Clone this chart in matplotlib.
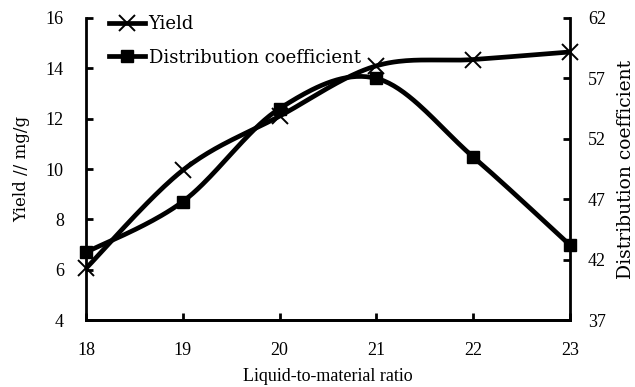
import numpy as np
import matplotlib.pyplot as plt
from matplotlib.lines import Line2D

plt.rcParams['font.family'] = 'Liberation Serif'

ratio = [18, 19, 20, 21, 22, 23]
yield_mg = [6.05, 9.95, 12.1, 14.1, 14.35, 14.65]
dist_coef = [42.6, 46.8, 54.5, 57.0, 50.5, 43.2]


def smooth(x, y, n=40):
    # catmull-rom bezier curve through the points, like spreadsheet "smoothed line"
    x = np.asarray(x, float)
    y = np.asarray(y, float)
    pts = np.column_stack([x, y])
    out = []
    t = np.linspace(0, 1, n)
    for i in range(len(pts) - 1):
        p0 = pts[i - 1] if i > 0 else pts[i]
        p1 = pts[i]
        p2 = pts[i + 1]
        p3 = pts[i + 2] if i + 2 < len(pts) else pts[i + 1]
        c1 = p1 + (p2 - p0) / 6
        c2 = p2 - (p3 - p1) / 6
        seg = ((1 - t) ** 3)[:, None] * p1 + (3 * (1 - t) ** 2 * t)[:, None] * c1 \
            + (3 * (1 - t) * t ** 2)[:, None] * c2 + (t ** 3)[:, None] * p2
        out.append(seg)
    s = np.vstack(out)
    return s[:, 0], s[:, 1]


fig = plt.figure(figsize=(6.35, 3.87), dpi=100)
ax = fig.add_axes([0.1354, 0.1731, 0.7622, 0.7804])
ax2 = ax.twinx()

lw = 3.4
sx, sy = smooth(ratio, yield_mg)
ax.plot(sx, sy, color='black', lw=lw, solid_capstyle='round')
ax.plot(ratio, yield_mg, 'x', color='black', ms=11, mew=1.4, clip_on=False)

dx, dy = smooth(ratio, dist_coef)
ax2.plot(dx, dy, color='black', lw=lw, solid_capstyle='round')
ax2.plot(ratio, dist_coef, 's', color='black', ms=9, clip_on=False)

ax.set_xlim(18, 23)
ax.set_ylim(4, 16)
ax2.set_ylim(37, 62)
ax.set_xticks(ratio)
ax.set_yticks([4, 6, 8, 10, 12, 14, 16])
ax2.set_yticks([37, 42, 47, 52, 57, 62])

for a in (ax, ax2):
    a.spines['top'].set_visible(False)
    for s in ('left', 'right', 'bottom'):
        a.spines[s].set_linewidth(2)
    a.tick_params(direction='in', length=5, width=2, labelsize=13)
ax.tick_params(axis='x', pad=16)
ax.tick_params(axis='y', pad=16)
ax2.tick_params(axis='y', pad=13)
ax2.spines['left'].set_visible(False)
ax.spines['right'].set_visible(False)

ax.set_xlabel('Liquid-to-material ratio', fontsize=13, labelpad=6)
ax.set_ylabel('Yield // mg/g', fontsize=12, family='DejaVu Serif', labelpad=11)
ax2.set_ylabel('Distribution coefficient', fontsize=13.5, family='DejaVu Serif',
               labelpad=8)

handles = [
    Line2D([], [], color='black', lw=lw, marker='x', ms=11, mew=1.4),
    Line2D([], [], color='black', lw=lw, marker='s', ms=9),
]
ax.legend(handles, ['Yield', 'Distribution coefficient'], loc='upper left',
          frameon=False, handlelength=2.0, handletextpad=0.2,
          labelspacing=0.85, borderaxespad=0.2, bbox_to_anchor=(0.025, 1.045),
          prop={'family': 'DejaVu Serif', 'size': 13})

fig.savefig('out.png', dpi=100)
